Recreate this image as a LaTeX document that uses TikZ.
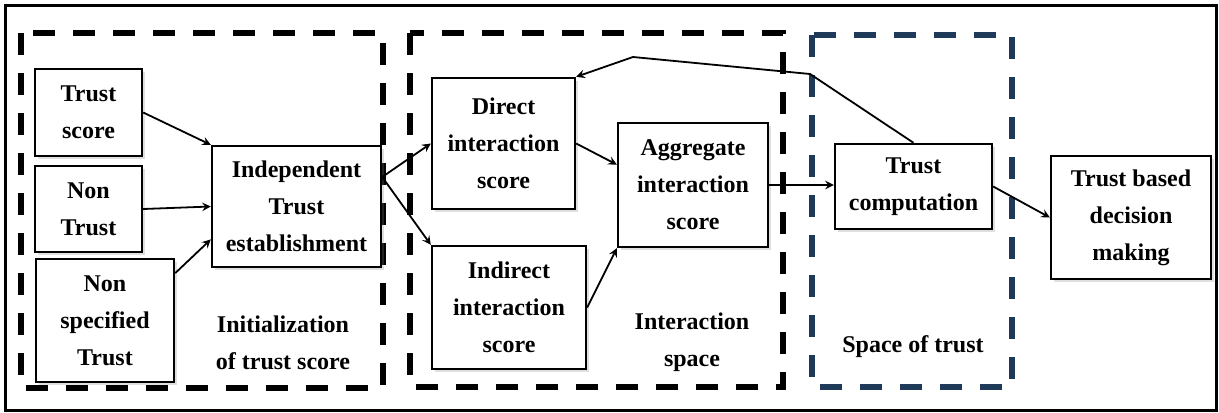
\documentclass[tikz,border=0pt]{standalone}
\usepackage{fontspec}
\setmainfont{Liberation Serif}
\usetikzlibrary{shadows}
\definecolor{zoneblue}{RGB}{31,58,88}

\begin{document}
\begin{tikzpicture}[x=0.5pt,y=-0.5pt,->,>=stealth,font=\bfseries\fontsize{12}{18.5}\selectfont,
        blk/.style={draw,-,line width=1.2pt,fill=white,align=center,inner sep=1pt,
            drop shadow={opacity=0.25,shadow xshift=1.5pt,shadow yshift=-1.5pt}},
        zone/.style={-,line width=3pt,dash pattern=on 11pt off 9pt},
        lbl/.style={align=center}]
            \useasboundingbox (0,0) rectangle (1219,412);
            \draw[-,line width=1.5pt] (5,5) rectangle (1216,410);
            % the three spaces
            \draw[zone] (21,33) rectangle (383,388);
            \draw[zone] (410,33) rectangle (783,387);
            \draw[zone,zoneblue] (812,35) rectangle (1012,387);
            \node[lbl] (init) at (283,343) {Initialization\\of trust score};
            \node[lbl] (ispace) at (692,342) {Interaction\\space};
            \node[lbl] (tspace) at (913,347) {Space of trust};
            % blocks
            \node[blk,minimum width=53.5pt,minimum height=43.5pt] (ts) at (88.5,112.5) {Trust\\score};
            \node[blk,minimum width=53.5pt,minimum height=43pt] (nt) at (88.5,209) {Non\\Trust};
            \node[blk,minimum width=69pt,minimum height=61.5pt] (ns) at (105,320.5) {Non\\specified\\Trust};
            \node[blk,minimum width=84.5pt,minimum height=60.5pt] (it) at (296.5,206.5) {Independent\\Trust\\establishment};
            \node[blk,minimum width=71.5pt,minimum height=65.5pt] (dir) at (503.5,143.5) {Direct\\interaction\\score};
            \node[blk,minimum width=77pt,minimum height=61.5pt] (ind) at (509,307.5) {Indirect\\interaction\\score};
            \node[blk,minimum width=75pt,minimum height=62pt] (agg) at (693,185) {Aggregate\\interaction\\score};
            \node[blk,minimum width=78.5pt,minimum height=42.5pt] (tc) at (913.5,186.5) {Trust\\computation};
            \node[blk,minimum width=80pt,minimum height=61.5pt] (dm) at (1131,217.5) {Trust based\\decision\\making};
            % connectors
            \draw[line width=0.9pt] (ts.east) -- (it.north west);
            \draw[line width=0.9pt] (nt.east) -- (it.west);
            \draw[line width=0.9pt] (ns.34) -- (it.201);
            \draw[line width=0.9pt] (it.19) -- (dir.west);
            \draw[line width=0.9pt] (it.19) -- (ind.north west);
            \draw[line width=0.9pt] (dir.east) -- (agg.165);
            \draw[line width=0.9pt] (ind.east) -- (agg.south west);
            \draw[line width=0.9pt] (agg.east) -- (agg.east -| tc.west);
            \draw[line width=0.9pt] (tc.east) -- (dm.west);
            \coordinate (fb1) at (810,74);
            \coordinate (fb2) at (633,57);
            \draw[line width=0.9pt] (tc.north) -- (fb1) -- (fb2) -- (dir.north east);
        \end{tikzpicture}
\end{document}
